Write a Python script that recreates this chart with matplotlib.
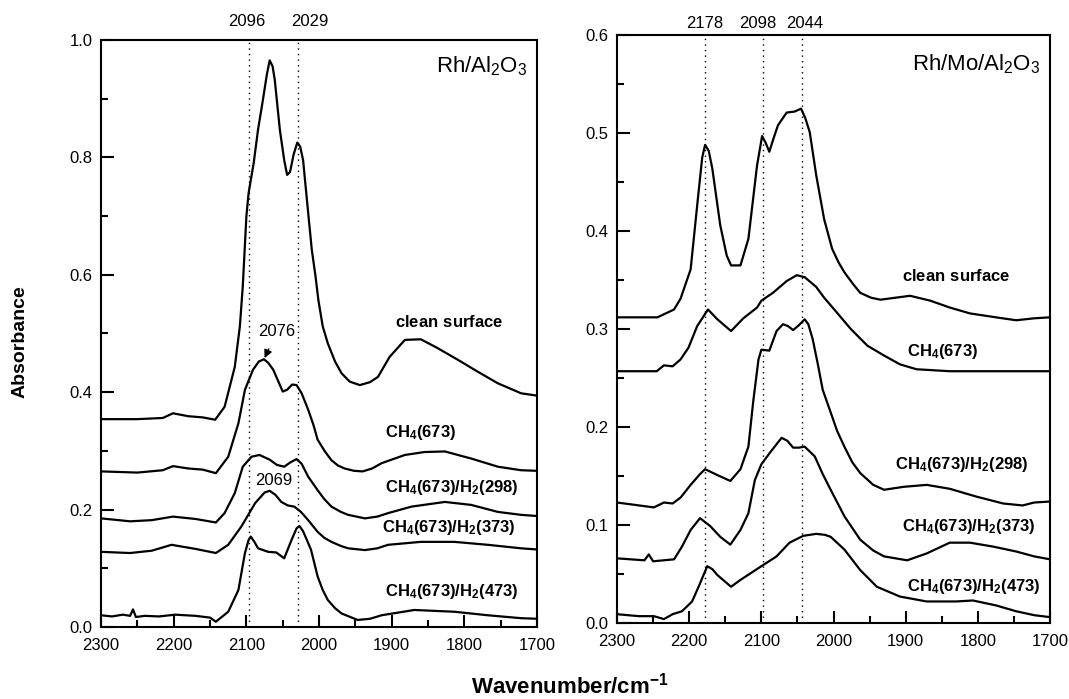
import matplotlib
matplotlib.use("Agg")
import matplotlib.pyplot as plt
from matplotlib.ticker import MultipleLocator
from matplotlib.transforms import blended_transform_factory

plt.rcParams['font.family'] = ['Liberation Sans', 'DejaVu Sans']
plt.rcParams['mathtext.fontset'] = 'custom'
plt.rcParams['mathtext.rm'] = 'Liberation Sans'
plt.rcParams['mathtext.bf'] = 'Liberation Sans:bold'
plt.rcParams['mathtext.default'] = 'regular'

# ---- Rh/Al2O3 (left panel) ----
rh_clean_wn = [2300, 2250, 2215, 2201, 2180, 2160, 2143, 2130, 2116, 2109, 2105, 2100, 2097, 2090,
               2084, 2077, 2072, 2068, 2064, 2061, 2054, 2048, 2044, 2040, 2035, 2030, 2026, 2022,
               2015, 2010, 2005, 2001, 1995, 1988, 1978, 1969, 1958, 1944, 1930, 1919, 1903, 1882,
               1860, 1837, 1809, 1782, 1754, 1722, 1700]
rh_clean_abs = [0.354, 0.354, 0.356, 0.364, 0.359, 0.357, 0.353, 0.375, 0.443, 0.512, 0.580, 0.700,
                0.739, 0.790, 0.847, 0.900, 0.940, 0.965, 0.955, 0.932, 0.847, 0.795, 0.770, 0.775,
                0.805, 0.825, 0.818, 0.795, 0.705, 0.642, 0.598, 0.557, 0.512, 0.483, 0.452, 0.432,
                0.418, 0.412, 0.417, 0.426, 0.460, 0.489, 0.490, 0.475, 0.455, 0.435, 0.415, 0.398,
                0.394]

rh_ch4_wn = [2300, 2250, 2215, 2201, 2180, 2160, 2142, 2125, 2111, 2102, 2091, 2083, 2076, 2070,
             2063, 2056, 2050, 2044, 2037, 2031, 2024, 2015, 2008, 2002, 1992, 1983, 1974, 1965,
             1952, 1940, 1927, 1914, 1882, 1855, 1827, 1791, 1754, 1722, 1700]
rh_ch4_abs = [0.265, 0.263, 0.267, 0.274, 0.270, 0.268, 0.262, 0.290, 0.347, 0.404, 0.438, 0.452,
              0.456, 0.450, 0.438, 0.418, 0.401, 0.404, 0.413, 0.412, 0.398, 0.370, 0.345, 0.319,
              0.299, 0.284, 0.275, 0.270, 0.266, 0.265, 0.270, 0.279, 0.293, 0.298, 0.299, 0.287,
              0.273, 0.267, 0.266]

rh_h298_wn = [2300, 2260, 2230, 2201, 2170, 2142, 2130, 2116, 2105, 2093, 2082, 2068, 2058, 2048,
              2040, 2031, 2024, 2015, 2002, 1993, 1983, 1970, 1960, 1937, 1920, 1905, 1873, 1827,
              1791, 1754, 1722, 1700]
rh_h298_abs = [0.185, 0.180, 0.182, 0.188, 0.184, 0.178, 0.194, 0.228, 0.273, 0.290, 0.293, 0.285,
               0.276, 0.273, 0.280, 0.286, 0.278, 0.256, 0.233, 0.218, 0.205, 0.196, 0.191, 0.185,
               0.188, 0.194, 0.205, 0.213, 0.208, 0.196, 0.191, 0.189]

rh_h373_wn = [2300, 2260, 2230, 2203, 2170, 2142, 2125, 2107, 2088, 2075, 2068, 2060, 2052, 2043,
              2034, 2025, 2015, 2002, 1993, 1983, 1970, 1960, 1937, 1920, 1905, 1860, 1814, 1768,
              1722, 1700]
rh_h373_abs = [0.128, 0.126, 0.130, 0.140, 0.133, 0.126, 0.140, 0.171, 0.211, 0.229, 0.232, 0.225,
               0.213, 0.207, 0.205, 0.196, 0.182, 0.162, 0.152, 0.145, 0.138, 0.134, 0.131, 0.134,
               0.140, 0.145, 0.145, 0.140, 0.134, 0.132]

rh_h473_wn = [2300, 2285, 2270, 2260, 2256, 2252, 2240, 2220, 2198, 2170, 2150, 2142, 2125, 2111,
              2102, 2097, 2094, 2089, 2084, 2070, 2059, 2048, 2038, 2031, 2027, 2022, 2015, 2011,
              2002, 1995, 1988, 1978, 1969, 1947, 1930, 1914, 1869, 1814, 1768, 1722, 1700]
rh_h473_abs = [0.020, 0.018, 0.021, 0.019, 0.030, 0.017, 0.019, 0.018, 0.021, 0.019, 0.016, 0.009,
               0.026, 0.063, 0.126, 0.148, 0.154, 0.145, 0.134, 0.128, 0.127, 0.117, 0.148, 0.168,
               0.172, 0.163, 0.143, 0.131, 0.086, 0.063, 0.046, 0.032, 0.023, 0.012, 0.014, 0.020,
               0.029, 0.026, 0.020, 0.015, 0.014]

# ---- Rh/Mo/Al2O3 (right panel) ----
rhmo_clean_wn = [2300, 2244, 2221, 2212, 2198, 2188, 2182, 2178, 2173, 2168, 2157, 2148, 2142, 2129,
                 2118, 2106, 2099, 2094, 2089, 2083, 2077, 2065, 2054, 2045, 2039, 2033, 2024, 2013,
                 2002, 1993, 1985, 1973, 1963, 1948, 1935, 1894, 1866, 1839, 1811, 1775, 1747, 1722,
                 1700]
rhmo_clean_abs = [0.312, 0.312, 0.320, 0.331, 0.361, 0.433, 0.475, 0.488, 0.482, 0.464, 0.406, 0.375,
                  0.365, 0.365, 0.392, 0.467, 0.497, 0.490, 0.481, 0.495, 0.508, 0.521, 0.522, 0.525,
                  0.515, 0.501, 0.457, 0.412, 0.382, 0.368, 0.358, 0.346, 0.337, 0.332, 0.330, 0.334,
                  0.329, 0.322, 0.316, 0.312, 0.309, 0.311, 0.312]

rhmo_ch4_wn = [2300, 2245, 2235, 2223, 2212, 2201, 2189, 2174, 2161, 2142, 2125, 2106, 2100, 2084,
               2065, 2051, 2040, 2024, 2013, 1999, 1976, 1953, 1930, 1908, 1885, 1839, 1780, 1700]
rhmo_ch4_abs = [0.257, 0.257, 0.263, 0.262, 0.269, 0.281, 0.303, 0.320, 0.310, 0.298, 0.311, 0.322,
                0.329, 0.337, 0.349, 0.355, 0.353, 0.343, 0.332, 0.320, 0.300, 0.283, 0.273, 0.264,
                0.259, 0.257, 0.257, 0.257]

rhmo_h298_wn = [2300, 2249, 2235, 2223, 2212, 2198, 2185, 2178, 2161, 2143, 2129, 2118, 2111, 2104,
                2100, 2089, 2079, 2070, 2063, 2056, 2048, 2040, 2035, 2029, 2022, 2015, 2004, 1995,
                1985, 1974, 1963, 1945, 1930, 1903, 1871, 1839, 1802, 1765, 1738, 1722, 1700]
rhmo_h298_abs = [0.123, 0.118, 0.123, 0.122, 0.128, 0.141, 0.152, 0.157, 0.151, 0.145, 0.157, 0.180,
                 0.228, 0.269, 0.279, 0.278, 0.298, 0.305, 0.303, 0.299, 0.304, 0.310, 0.305, 0.290,
                 0.265, 0.238, 0.215, 0.196, 0.180, 0.164, 0.153, 0.141, 0.136, 0.139, 0.141, 0.137,
                 0.129, 0.122, 0.120, 0.123, 0.124]

rhmo_h373_wn = [2300, 2262, 2256, 2250, 2221, 2210, 2198, 2185, 2171, 2157, 2143, 2129, 2118, 2109,
                2100, 2088, 2072, 2064, 2056, 2048, 2040, 2026, 2015, 2004, 1985, 1963, 1945, 1930,
                1898, 1871, 1839, 1811, 1779, 1747, 1722, 1700]
rhmo_h373_abs = [0.066, 0.064, 0.070, 0.063, 0.065, 0.078, 0.095, 0.107, 0.099, 0.088, 0.080, 0.095,
                 0.112, 0.146, 0.162, 0.174, 0.189, 0.186, 0.179, 0.179, 0.180, 0.170, 0.152, 0.136,
                 0.109, 0.085, 0.074, 0.068, 0.064, 0.071, 0.082, 0.082, 0.078, 0.073, 0.068, 0.065]

rhmo_h473_wn = [2300, 2270, 2249, 2235, 2223, 2210, 2196, 2187, 2175, 2168, 2161, 2142, 2129, 2100,
                2079, 2061, 2042, 2024, 2012, 2004, 1985, 1963, 1940, 1908, 1871, 1830, 1807, 1775,
                1747, 1722, 1700]
rhmo_h473_abs = [0.009, 0.007, 0.007, 0.004, 0.009, 0.012, 0.022, 0.037, 0.058, 0.055, 0.049, 0.037,
                 0.044, 0.058, 0.068, 0.082, 0.089, 0.091, 0.090, 0.088, 0.075, 0.054, 0.037, 0.027,
                 0.022, 0.022, 0.023, 0.018, 0.012, 0.008, 0.006]

curve_labels = [r'$\mathbf{clean\ surface}$', r'$\mathbf{CH_4(673)}$', r'$\mathbf{CH_4(673)/H_2(298)}$',
                r'$\mathbf{CH_4(673)/H_2(373)}$', r'$\mathbf{CH_4(673)/H_2(473)}$']
left_label_pos = [(1896, 0.520), (1910, 0.332), (1910, 0.237), (1914, 0.170), (1910, 0.060)]
right_label_pos = [(1905, 0.354), (1898, 0.277), (1915, 0.162), (1905, 0.099), (1898, 0.037)]

left_marks = [2096, 2029]
left_mark_text_x = [2100, 2013]
right_marks = [2178, 2098, 2044]
right_mark_text_x = [2178, 2105, 2040]


def style_axes(ax, ymax, major, minor):
    ax.set_xlim(2300, 1700)
    ax.set_ylim(0, ymax)
    ax.xaxis.set_major_locator(MultipleLocator(100))
    ax.xaxis.set_minor_locator(MultipleLocator(50))
    ax.yaxis.set_major_locator(MultipleLocator(major))
    ax.yaxis.set_minor_locator(MultipleLocator(minor))
    ax.tick_params(which='both', direction='in', top=False, right=False, width=1.5, labelsize=12)
    ax.tick_params(which='major', length=9)
    ax.tick_params(which='minor', length=5)
    ax.tick_params(axis='x', pad=8)
    ax.tick_params(axis='y', pad=6)
    for sp in ax.spines.values():
        sp.set_linewidth(1.5)


def draw_marks(ax, marks, text_x, ytext):
    trans = blended_transform_factory(ax.transData, ax.transAxes)
    for m, tx in zip(marks, text_x):
        ax.axvline(m, color='black', linestyle=(0, (1, 3)), linewidth=1.0)
        ax.text(tx, ytext, str(m), transform=trans, ha='center', va='center', fontsize=12)


fig = plt.figure(figsize=(10.69, 6.99), dpi=100)
ax1 = fig.add_axes([0.0945, 0.103, 0.408, 0.840])
ax2 = fig.add_axes([0.5772, 0.1087, 0.4051, 0.841])

left_series = [(rh_clean_wn, rh_clean_abs), (rh_ch4_wn, rh_ch4_abs), (rh_h298_wn, rh_h298_abs),
               (rh_h373_wn, rh_h373_abs), (rh_h473_wn, rh_h473_abs)]
right_series = [(rhmo_clean_wn, rhmo_clean_abs), (rhmo_ch4_wn, rhmo_ch4_abs),
                (rhmo_h298_wn, rhmo_h298_abs), (rhmo_h373_wn, rhmo_h373_abs),
                (rhmo_h473_wn, rhmo_h473_abs)]

for wn, ab in left_series:
    ax1.plot(wn, ab, color='black', linewidth=1.6, solid_joinstyle='round')
for wn, ab in right_series:
    ax2.plot(wn, ab, color='black', linewidth=1.6, solid_joinstyle='round')

style_axes(ax1, 1.0, 0.2, 0.1)
style_axes(ax2, 0.6, 0.1, 0.05)

draw_marks(ax1, left_marks, left_mark_text_x, 1.032)
draw_marks(ax2, right_marks, right_mark_text_x, 1.02)

for lab, (x, y) in zip(curve_labels, left_label_pos):
    ax1.text(x, y, lab, ha='left', va='center', fontsize=12)
for lab, (x, y) in zip(curve_labels, right_label_pos):
    ax2.text(x, y, lab, ha='left', va='center', fontsize=12)

ax1.text(1713, 0.975, r'Rh/Al$_2$O$_3$', ha='right', va='top', fontsize=16)
ax2.text(1714, 0.582, r'Rh/Mo/Al$_2$O$_3$', ha='right', va='top', fontsize=16)

# peak annotations
ax1.annotate('2076', xy=(2075, 0.458), xytext=(2058, 0.504), ha='center', va='center', fontsize=12,
             arrowprops=dict(arrowstyle='-|>', color='black', lw=1.0, mutation_scale=12,
                             shrinkA=6, shrinkB=0))
ax1.text(2062, 0.250, '2069', ha='center', va='center', fontsize=12)

fig.text(20 / 1069, 1 - 342 / 699, 'Absorbance', rotation=90, ha='center', va='center',
         fontsize=14, fontweight='bold')
fig.text(570 / 1069, 1 - 686 / 699, r'$\mathbf{Wavenumber/cm^{-1}}$', ha='center', va='center',
         fontsize=16)

fig.savefig('out.png', dpi=100)
